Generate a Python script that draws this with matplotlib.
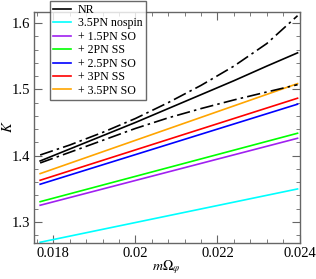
import matplotlib
matplotlib.use("Agg")
import matplotlib.pyplot as plt
from matplotlib.ticker import MultipleLocator

plt.rcParams['font.family'] = ['Liberation Serif', 'DejaVu Serif']
plt.rcParams['mathtext.fontset'] = 'stix'

# NR and its error band (dash-dot)
x_nr = [0.01768, 0.0184, 0.0192, 0.0200, 0.0208, 0.0216, 0.0224, 0.0232, 0.02395]
k_nr = [1.392, 1.410, 1.430, 1.450, 1.471, 1.492, 1.513, 1.535, 1.555]
k_nr_hi = [1.401, 1.416, 1.435, 1.456, 1.480, 1.506, 1.535, 1.569, 1.611]
k_nr_lo = [1.389, 1.405, 1.423, 1.441, 1.457, 1.471, 1.484, 1.496, 1.507]

# PN curves (straight lines, start and end)
x_pn = [0.01768, 0.02395]
k_nospin = [1.2694, 1.3498]
k_15so = [1.3252, 1.4262]
k_2ss = [1.3306, 1.4338]
k_25so = [1.3569, 1.4776]
k_3ss = [1.3629, 1.4866]
k_35so = [1.3729, 1.5086]

fig = plt.figure(figsize=(3.16, 2.79), dpi=100)
axe = fig.add_axes([34/316, 1 - 243/279, (299.6 - 34)/316, (243 - 12)/279])

axe.plot(x_nr, k_nr, c='k', lw=1.2, label='NR')
axe.plot(x_pn, k_nospin, c='cyan', lw=1.2, label='3.5PN nospin')
axe.plot(x_pn, k_15so, c='#a020f0', lw=1.2, label='+ 1.5PN SO')
axe.plot(x_pn, k_2ss, c='#00ff00', lw=1.2, label='+ 2PN SS')
axe.plot(x_pn, k_25so, c='blue', lw=1.2, label='+ 2.5PN SO')
axe.plot(x_pn, k_3ss, c='red', lw=1.2, label='+ 3PN SS')
axe.plot(x_pn, k_35so, c='orange', lw=1.2, label='+ 3.5PN SO')
axe.plot(x_nr, k_nr_hi, c='k', lw=1.2, ls=(0, (8, 2.5, 1.5, 2.5)))
axe.plot(x_nr, k_nr_lo, c='k', lw=1.2, ls=(0, (8, 2.5, 1.5, 2.5)))

axe.set_xlim(0.01753, 0.024)
axe.set_ylim(1.2683, 1.6166)
axe.xaxis.set_minor_locator(MultipleLocator(0.0004))
axe.yaxis.set_minor_locator(MultipleLocator(0.02))
axe.set_xticks([0.018, 0.02, 0.022, 0.024])
axe.set_xticklabels(['0.018', '0.02', '0.022', '0.024'])
axe.set_yticks([1.3, 1.4, 1.5, 1.6])
axe.set_yticklabels(['1.3', '1.4', '1.5', '1.6'])

for s in axe.spines.values():
    s.set_color('#666666')
    s.set_linewidth(1.0)
axe.tick_params(which='both', direction='in', top=True, right=True,
                color='#666666', labelsize=10.5, pad=3)
axe.tick_params(which='major', length=6)
axe.tick_params(which='minor', length=3)

axe.set_xlabel(r'$m\Omega_{\varphi}$', fontsize=10)
axe.set_ylabel(r'$K$', fontsize=10.5)
w_ax = 299.6 - 34
h_ax = 243 - 12
axe.xaxis.set_label_coords((166 - 34) / w_ax, -(258 - 243) / h_ax)
axe.yaxis.set_label_coords(-(34 - 15) / w_ax, (243 - 127) / h_ax)

leg = axe.legend(loc='upper left', bbox_to_anchor=(50/316, 1 - 1/279),
                 bbox_transform=fig.transFigure, fontsize=8.6,
                 handlelength=1.5, handletextpad=0.6, labelspacing=0.12,
                 borderpad=0.25, borderaxespad=0, frameon=True, fancybox=False)
leg.get_frame().set_edgecolor('#444444')
leg.get_frame().set_linewidth(1.0)
leg.set_zorder(5)

fig.savefig('out.png', dpi=100)
